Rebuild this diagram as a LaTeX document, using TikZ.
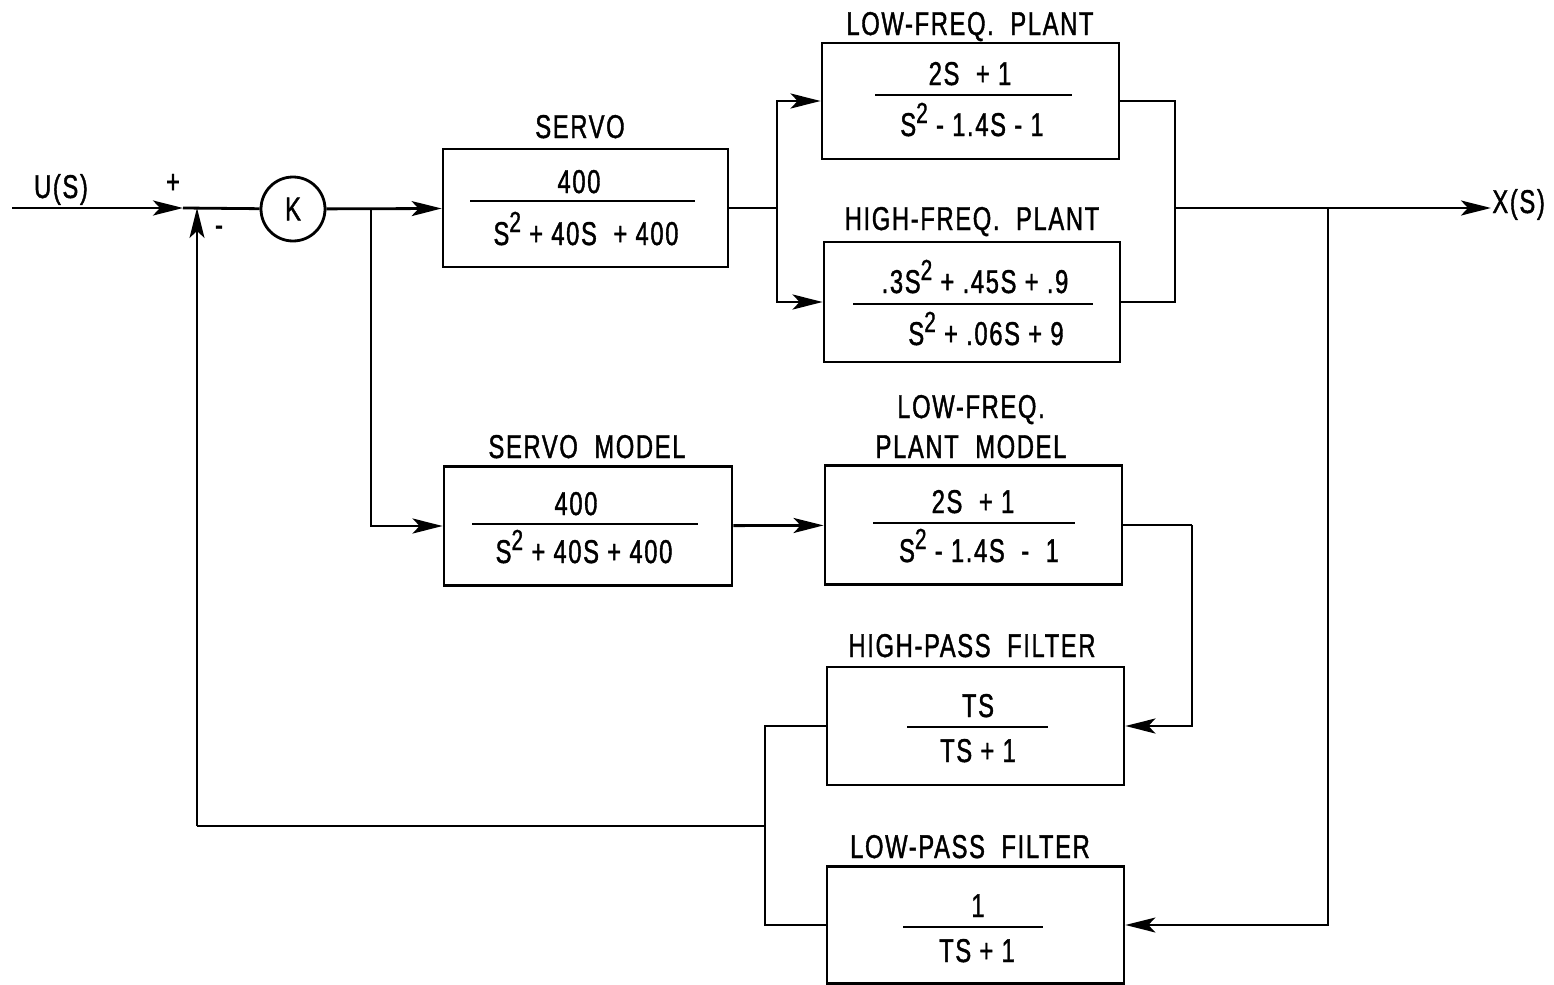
\documentclass[tikz,border=0pt]{standalone}
\usepackage{fontspec}
\setmainfont{Liberation Sans}[FakeStretch=0.72,FakeBold=1.2,LetterSpace=5]
\usetikzlibrary{arrows.meta}
\newcommand\sqtwo{\raisebox{6.5pt}{\fontsize{14.5}{14.5}\selectfont 2}}
\begin{document}
\begin{tikzpicture}[x=0.5pt,y=-0.5pt,
  ln/.style={line width=1.4pt},
  thinln/.style={line width=0.9pt},
  blk/.style={draw, line width=1.4pt, inner sep=0pt},
  arr/.style={-{Stealth[length=15pt,width=7.5pt,inset=3.5pt]}},
  lbl/.style={anchor=base, inner sep=0pt, font=\fontsize{16.5}{16.5}\selectfont},
  frule/.style={line width=1.2pt}]
\useasboundingbox (0,0) rectangle (1554,985);

% blocks
\node[blk, minimum width=142.5pt, minimum height=59pt] (servo) at (585.5,208) {};
\node[blk, minimum width=148.5pt, minimum height=58pt] (lfp) at (970.5,101) {};
\node[blk, minimum width=148pt, minimum height=60pt] (hfp) at (972,302) {};
\node[blk, minimum width=144pt, minimum height=59.5pt] (servom) at (588,526) {};
\node[blk, minimum width=148.5pt, minimum height=59.5pt] (lfpm) at (973.5,525) {};
\node[blk, minimum width=148.5pt, minimum height=59pt] (hpf) at (975.5,726) {};
\node[blk, minimum width=148.5pt, minimum height=58.5pt] (lpf) at (975.5,925) {};
\node[draw, circle, line width=1.4pt, minimum size=32pt, inner sep=0pt,
      font=\fontsize{16.5}{16.5}\selectfont] (K) at (293,209) {K};

% labels
\node[lbl] (ulab) at (61,198) {U(S)};
\node[lbl] (plus) at (173,193) {+};
\node[lbl] (minus) at (219,236) {-};
\node[lbl, anchor=base west] (xlab) at (1492,213) {X(S)};

\node[lbl] (t1) at (580,138) {SERVO};
\node[lbl] (n1) at (579,193) {400};
\draw[frule] (470,201) -- (695,201);
\node[lbl] (d1) at (586,245) {S\sqtwo\ + 40S \ + 400};

\node[lbl] (t2) at (970,35) {LOW-FREQ. \ PLANT};
\node[lbl] (n2) at (970,85) {2S \ + 1};
\draw[frule] (875,95) -- (1072,95);
\node[lbl] (d2) at (972,136) {S\sqtwo\ - 1.4S - 1};

\node[lbl] (t3) at (972,230) {HIGH-FREQ. \ PLANT};
\node[lbl] (n3) at (975,293) {.3S\sqtwo\ + .45S + .9};
\draw[frule] (853,304) -- (1093,304);
\node[lbl] (d3) at (986,345) {S\sqtwo\ + .06S + 9};

\node[lbl] (t4) at (587,458) {SERVO \ MODEL};
\node[lbl] (n4) at (576,515) {400};
\draw[frule] (472,524) -- (698,524);
\node[lbl] (d4) at (584,563) {S\sqtwo\ + 40S + 400};

\node[lbl] (t5a) at (971,418) {LOW-FREQ.};
\node[lbl] (t5b) at (971,458) {PLANT \ MODEL};
\node[lbl] (n5) at (973,513) {2S \ + 1};
\draw[frule] (873,523) -- (1075,523);
\node[lbl] (d5) at (979,562) {S\sqtwo\ - 1.4S \ - \ 1};

\node[lbl] (t6) at (972,657) {HIGH-PASS \ FILTER};
\node[lbl] (n6) at (978,717) {TS};
\draw[frule] (907,727) -- (1048,727);
\node[lbl] (d6) at (978,762) {TS + 1};

\node[lbl] (t7) at (970,858) {LOW-PASS \ FILTER};
\node[lbl] (n7) at (978,917) {1};
\draw[frule] (903,927) -- (1043,927);
\node[lbl] (d7) at (977,962) {TS + 1};

% junction coordinates
\coordinate (uin) at (12,208);
\coordinate (ain) at (183,208);
\coordinate (sum) at (197,208);
\coordinate (b1) at (371,208);
\coordinate (b2) at (777,208);
\coordinate (b3) at (1175,208);
\coordinate (b4) at (1328,208);
\coordinate (xout) at (1491,208);
\coordinate (c1) at (1192,525);
\coordinate (b5) at (765,826);
\coordinate (fbc) at (197,826);

% connectors
\draw[ln, arr] (uin) -- (ain);
\draw[ln] (ain) -- (K);
\draw[ln, arr] (K) -- (servo);
\draw[ln, arr] (b1) |- (servom.west);
\draw[ln] (servo.east) -- (b2);
\draw[ln, arr] (b2) |- (lfp.west);
\draw[ln, arr] (b2) |- (hfp.west);
\draw[ln] (lfp.east) -| (b3);
\draw[ln] (hfp.east) -| (b3);
\draw[ln, arr] (b3) -- (xout);
\draw[thinln, arr] (b4) |- (lpf.east);
\draw[ln, arr] (servom) -- (lfpm);
\draw[ln] (lfpm.east) -- (c1);
\draw[ln, arr] (c1) |- (hpf.east);
\draw[ln] (hpf.west) -| (b5);
\draw[ln] (lpf.west) -| (b5);
\draw[ln] (b5) -- (fbc);
\draw[thinln, arr] (fbc) -- (sum);
\end{tikzpicture}
\end{document}
